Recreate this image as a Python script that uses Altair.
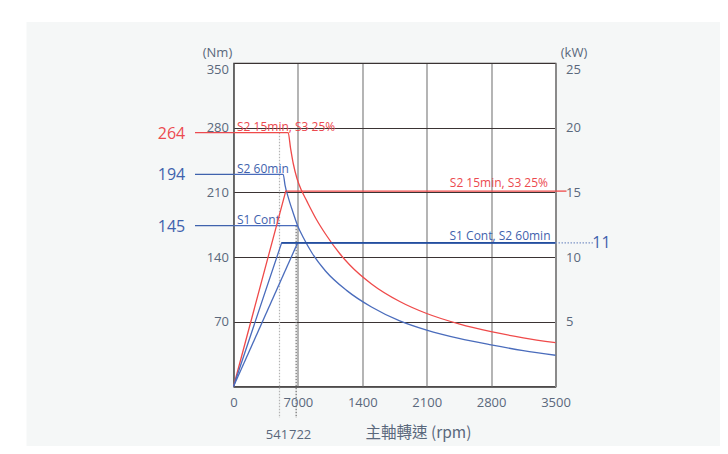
import altair as alt
import pandas as pd

# ---------------- data ----------------
x_ticks = [0, 700, 1400, 2100, 2800, 3500]
x_tick_labels = ["0", "7000", "1400", "2100", "2800", "3500"]
nm_ticks = [70, 140, 210, 280, 350]
kw_ticks = [5, 10, 15, 20, 25]

# torque curves (left axis, Nm)
red_torque_rpm = [0, 594, 620, 650, 690, 740, 800, 900, 1000, 1156, 1264, 1500, 1807, 2100, 2450, 2800, 3150, 3500]
red_torque_nm = [274.6, 274.6, 258, 241, 225, 212, 200, 181, 165, 143.6, 131.5, 111, 92, 79, 67.8, 59.3, 52.7, 47.4]

blue_torque_rpm = [0, 540, 560, 600, 650, 697, 760, 850, 1000, 1229, 1500, 1807, 2100, 2450, 2800, 3150, 3500]
blue_torque_nm = [229.6, 229.6, 218, 203, 187.5, 174, 161, 145, 125, 104, 86, 71, 61, 52, 45, 38.8, 33.8]

s1_torque_rpm = [0, 697]
s1_torque_nm = [174, 174]

# power curves (right axis, kW)
red_power_rpm = [0, 568, 3500]
red_power_kw = [0, 15.1, 15.1]
s2_power_rpm = [0, 523, 3500]
s2_power_kw = [0, 11.1, 11.1]
s1_power_rpm = [0, 697]
s1_power_kw = [0, 11.1]

# annotations
torque_mark_labels = ["264", "194", "145"]
torque_mark_nm = [274.6, 229.6, 174]
torque_mark_colors = ["#ec4a4f", "#3f62ad", "#3f62ad"]

curve_names = ["S2 15min, S3 25%", "S2 60min", "S1 Cont"]
curve_name_nm = [274.6, 229.6, 174]
curve_name_colors = ["#ec4a4f", "#3f62ad", "#3f62ad"]

base_speed_rpm = [500, 681]
base_speed_nm = [274.6, 174]
base_speed_labels = ["541", "722"]
base_speed_colors = ["#b4b4b4", "#6e6e6e"]

power_names = ["S2 15min, S3 25%", "S1 Cont, S2 60min"]
power_name_kw = [15.1, 11.1]
power_name_colors = ["#ec4a4f", "#3f62ad"]
power_mark_label = ["11"]
power_mark_kw = [11.1]

# ---------------- styling ----------------
W, H = 322, 323.5
RED = "#ef4a4a"
BLUE = "#4a6cbc"
BLUE_DARK = "#234e9e"
TEXT = "#5a687c"
FONT = "Open Sans"

xscale = alt.Scale(domain=[0, 3500], nice=False, zero=False)
nmscale = alt.Scale(domain=[0, 350], nice=False)
kwscale = alt.Scale(domain=[0, 25], nice=False)

label_expr = "[" + ",".join("'%s'" % s for s in x_tick_labels) + "][indexof([" + \
    ",".join(str(v) for v in x_ticks) + "], datum.value)]"

xaxis = alt.Axis(values=x_ticks, labelExpr=label_expr, grid=True, gridColor="#8d8d8d",
                 gridWidth=1.3, domainColor="#333333", domainWidth=1.2, ticks=False,
                 labelPadding=10, labelFlush=False, labelFont=FONT, labelFontSize=13,
                 labelColor=TEXT,
                 title="主軸轉速 (rpm)", titleFont="Noto Sans CJK TC", titleFontSize=15.5,
                 titleFontWeight="normal", titleColor=TEXT, titleX=184.5, titleY=46,
                 titleAlign="center", titleBaseline="middle")
nmaxis = alt.Axis(values=nm_ticks, grid=True, gridColor="#3a3333", gridWidth=1,
                  domainColor="#555555", domainWidth=1.2, ticks=False, labelPadding=5,
                  labelFlush=True, labelFlushOffset=0,
                  labelFont=FONT, labelFontSize=13, labelColor=TEXT,
                  title="(Nm)", titleAngle=0, titleX=-16.5, titleY=-11, titleAlign="center",
                  titleBaseline="middle", titleFont=FONT, titleFontSize=13,
                  titleFontWeight="normal", titleColor=TEXT)
kwaxis = alt.Axis(values=kw_ticks, orient="right", grid=False,
                  domainColor="#8a8a8a", domainWidth=2, ticks=False, labelPadding=10,
                  labelFlush=True, labelFlushOffset=0,
                  labelFont=FONT, labelFontSize=13, labelColor=TEXT,
                  title="(kW)", titleAngle=0, titleX=18, titleY=-11, titleAlign="center",
                  titleBaseline="middle", titleFont=FONT, titleFontSize=13,
                  titleFontWeight="normal", titleColor=TEXT)

X = alt.X("rpm:Q", scale=xscale, axis=xaxis)
YN = alt.Y("nm:Q", scale=nmscale, axis=nmaxis)
YK = alt.Y("kw:Q", scale=kwscale, axis=kwaxis)

one = pd.DataFrame({"k": [0]})

# white strips outside the grey panel (page decoration)
strip_left = alt.Chart(one).mark_rect(color="white").encode(
    x=alt.value(-226), x2=alt.value(-207), y=alt.value(-56), y2=alt.value(H + 60))
strip_top = alt.Chart(one).mark_rect(color="white").encode(
    x=alt.value(-226), x2=alt.value(W + 166), y=alt.value(-56), y2=alt.value(-41))


def line_df(rpm, vals, key):
    return pd.DataFrame({"rpm": rpm, key: vals, "i": range(len(rpm))})


red_t = alt.Chart(line_df(red_torque_rpm, red_torque_nm, "nm")).mark_line(
    color=RED, strokeWidth=1.3, interpolate="monotone").encode(x=X, y=YN, order="i:Q")
blue_t = alt.Chart(line_df(blue_torque_rpm, blue_torque_nm, "nm")).mark_line(
    color=BLUE, strokeWidth=1.3, interpolate="monotone").encode(x=X, y=YN, order="i:Q")
s1_t = alt.Chart(line_df(s1_torque_rpm, s1_torque_nm, "nm")).mark_line(
    color=BLUE, strokeWidth=1.3).encode(x=X, y=YN, order="i:Q")

marks_df = pd.DataFrame({"nm": torque_mark_nm, "label": torque_mark_labels,
                         "c": torque_mark_colors})
mark_rules = alt.Chart(marks_df).mark_rule(strokeWidth=1.3).encode(
    x=alt.value(-38.5), x2=alt.value(0), y=YN, color=alt.Color("c:N", scale=None))
mark_text = alt.Chart(marks_df).mark_text(font=FONT, fontSize=16, align="center",
                                          baseline="middle", dy=1).encode(
    x=alt.value(-62), y=YN, text="label:N", color=alt.Color("c:N", scale=None))

names_df = pd.DataFrame({"nm": curve_name_nm, "label": curve_names, "c": curve_name_colors})
names_text = alt.Chart(names_df).mark_text(font=FONT, fontSize=12, align="left",
                                           baseline="alphabetic", dy=-1.5).encode(
    x=alt.value(3.5), y=YN, text="label:N", color=alt.Color("c:N", scale=None))

base_df = pd.DataFrame({"rpm": base_speed_rpm, "nm": base_speed_nm,
                        "label": base_speed_labels, "c": base_speed_colors})
base_rules = alt.Chart(base_df).mark_rule(strokeDash=[1.5, 1.5], strokeWidth=1.2).encode(
    x=X, y=YN, y2=alt.value(H + 31.5), color=alt.Color("c:N", scale=None))
base_text_a = alt.Chart(base_df.iloc[[0]]).mark_text(
    font=FONT, fontSize=13, align="center", baseline="middle", dx=-2.5, color=TEXT).encode(
    x=X, y=alt.value(H + 48.5), text="label:N")
base_text_b = alt.Chart(base_df.iloc[[1]]).mark_text(
    font=FONT, fontSize=13, align="center", baseline="middle", dx=4, color=TEXT).encode(
    x=X, y=alt.value(H + 48.5), text="label:N")

torque_layer = alt.layer(strip_left, strip_top, base_rules, red_t, blue_t, s1_t,
                         mark_rules, mark_text, names_text, base_text_a, base_text_b)

red_p = alt.Chart(line_df(red_power_rpm, red_power_kw, "kw")).mark_line(
    color=RED, strokeWidth=1.3).encode(x=X, y=YK, order="i:Q")
s2_p = alt.Chart(line_df(s2_power_rpm, s2_power_kw, "kw")).mark_line(
    color=BLUE, strokeWidth=1.3).encode(x=X, y=YK, order="i:Q")
s2_flat = alt.Chart(line_df(s2_power_rpm[1:], s2_power_kw[1:], "kw")).mark_line(
    color=BLUE_DARK, strokeWidth=1.6).encode(x=X, y=YK, order="i:Q")
s1_p = alt.Chart(line_df(s1_power_rpm, s1_power_kw, "kw")).mark_line(
    color=BLUE, strokeWidth=1.3).encode(x=X, y=YK, order="i:Q")

red_ext = alt.Chart(pd.DataFrame({"kw": [red_power_kw[-1]]})).mark_rule(
    color=RED, strokeWidth=1.3).encode(x=alt.value(W), x2=alt.value(W + 11), y=YK)
blue_ext = alt.Chart(pd.DataFrame({"kw": power_mark_kw})).mark_rule(
    color="#7f96c8", strokeWidth=1.2, strokeDash=[1.5, 1.5]).encode(
    x=alt.value(W), x2=alt.value(W + 37.5), y=YK)
p_mark = alt.Chart(pd.DataFrame({"kw": power_mark_kw, "label": power_mark_label})).mark_text(
    font=FONT, fontSize=16, align="center", baseline="middle", color="#3f62ad").encode(
    x=alt.value(368), y=YK, text="label:N")

pn_df = pd.DataFrame({"kw": power_name_kw, "label": power_names, "c": power_name_colors})
p_names_a = alt.Chart(pn_df.iloc[[0]]).mark_text(
    font=FONT, fontSize=12, align="right", baseline="alphabetic", dy=-4.5).encode(
    x=alt.value(W - 7.5), y=YK, text="label:N", color=alt.Color("c:N", scale=None))
p_names_b = alt.Chart(pn_df.iloc[[1]]).mark_text(
    font=FONT, fontSize=12, align="right", baseline="alphabetic", dy=-2.5).encode(
    x=alt.value(W - 5), y=YK, text="label:N", color=alt.Color("c:N", scale=None))

power_layer = alt.layer(red_p, s2_p, s1_p, s2_flat, red_ext, blue_ext, p_mark,
                        p_names_a, p_names_b)

chart = alt.layer(torque_layer, power_layer).resolve_scale(y="independent").properties(
    width=W, height=H,
    autosize=alt.AutoSizeParams(type="none"),
    padding={"left": 225.5, "top": 55, "right": 164.5, "bottom": 59.5},
    background="#f5f7f7",
).configure_view(stroke="#3a3333", strokeWidth=1.2, fill="white")

chart.save("out.html", embed_options={"renderer": "svg", "actions": False})
